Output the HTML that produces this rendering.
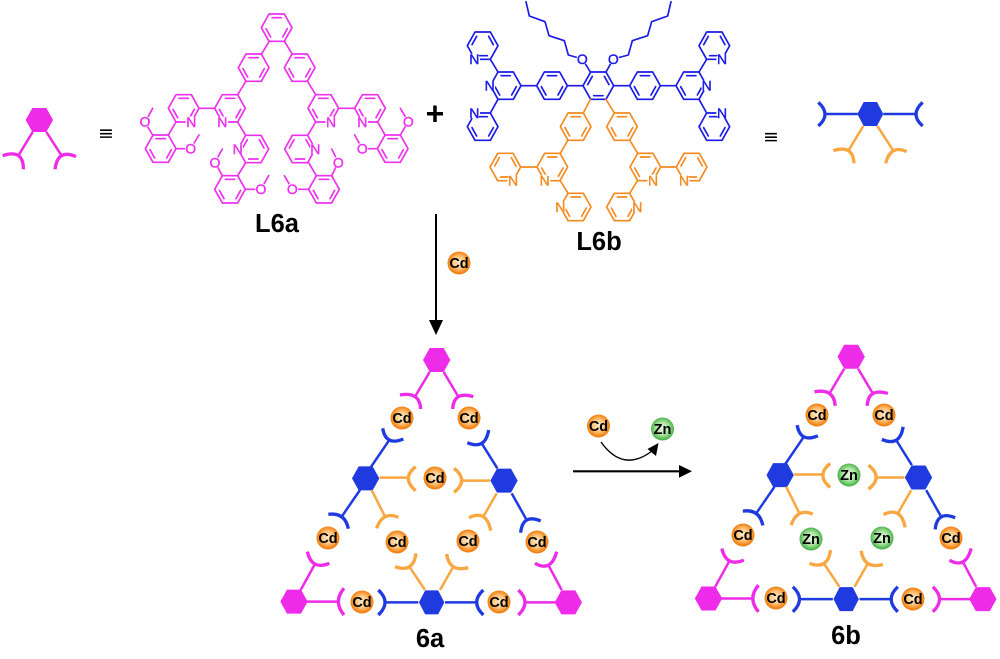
<!DOCTYPE html>
<html><head><meta charset="utf-8"><style>
html,body{margin:0;padding:0;background:#fff}
svg{display:block}
text{font-family:"Liberation Sans",sans-serif}
.chem{fill:none;stroke-width:5;stroke-linecap:round;stroke-linejoin:round}
.at{font-size:42px;text-anchor:middle;stroke-width:1.2}
.lb{font-size:25.5px;font-weight:bold;text-anchor:middle;fill:#000}
.m{font-size:14.5px;font-weight:bold;text-anchor:middle;fill:#000}
</style></head><body>
<svg width="1000" height="659" viewBox="0 0 1000 659" xmlns="http://www.w3.org/2000/svg">
<defs>
<g id="ra"><polygon points="-23,-41 23,-41 46,0 23,41 -23,41 -46,0"/><path d="M-14,-30H14M32,3L18,28M-32,3L-18,28"/></g>
<g id="rb"><polygon points="-23,-41 23,-41 46,0 23,41 -23,41 -46,0"/><path d="M-14,30H14M32,-3L18,-28M-32,-3L-18,-28"/></g>
<polygon id="hex" points="-21,-36 21,-36 41,0 21,36 -21,36 -41,0"/>
<circle id="w" r="17" fill="#fff"/>
<radialGradient id="go" cx="50%" cy="48%" r="52%"><stop offset="0" stop-color="#ffeccc"/><stop offset=".5" stop-color="#ffc680"/><stop offset=".85" stop-color="#f58a1e"/><stop offset="1" stop-color="#ec7a10"/></radialGradient>
<radialGradient id="gz" cx="50%" cy="48%" r="52%"><stop offset="0" stop-color="#e8f8e0"/><stop offset=".5" stop-color="#b4e6a8"/><stop offset=".85" stop-color="#5fc05a"/><stop offset="1" stop-color="#42a845"/></radialGradient>
<circle id="bo" r="11.5" fill="url(#go)"/>
<circle id="bz" r="11.5" fill="url(#gz)"/>
<g id="tri" fill="none">
 <g fill="#ee2be8" stroke="none">
  <use href="#hex" x="500" y="60"/><use href="#hex" x="72" y="785"/><use href="#hex" x="895" y="787"/>
 </g>
 <g fill="#1f3be0" stroke="none">
  <use href="#hex" x="287" y="415"/><use href="#hex" x="702" y="422"/>
  <use href="#hex" transform="translate(485 787) scale(.93 1)"/>
 </g>
 <g stroke="#ee2be8" stroke-width="7.5">
  <path d="M479,96L435,170M521,96L565,170M92,750L135,672M110,785H205M875,750L835,675M858,787H765"/>
  <path stroke-width="10" d="M390,165Q449,154 452,207M610,170Q551,152 548,207M178,670Q125,692 112,635M222,745Q188,785 222,825M795,670Q843,698 860,635M745,750Q785,787 745,825"/>
 </g>
 <g stroke="#1f3be0" stroke-width="7.5">
  <path d="M300,385L358,300M270,450L215,530M682,385L635,310M725,460L770,540M445,787H345M525,787H625"/>
  <path stroke-width="10" d="M338,265Q347,319 400,297M175,523Q225,516 235,566M592,308Q646,331 656,270M812,543Q758,520 752,578M325,750Q365,787 325,825M640,750Q600,787 640,825"/>
 </g>
 <g stroke="#faa641" stroke-width="7.5">
  <path d="M329,413H415M305,450L345,530M660,422H578M680,460L640,530M465,750L418,680M510,750L550,680"/>
  <path stroke-width="10" d="M437,380Q393,415 437,452M385,532Q338,512 320,565M552,385Q598,421 552,457M597,533Q650,508 662,572M375,680Q430,700 438,640M595,683Q538,698 530,642"/>
 </g>
</g>
</defs>
<rect width="1000" height="659" fill="#fff"/>

<!-- L6a -->
<g transform="translate(130 0) scale(.33333)">
<g class="chem" stroke="#ee30ee">
 <use href="#ra" x="440" y="83"/>
 <use href="#ra" x="371" y="203"/><use href="#ra" x="509" y="203"/>
 <use href="#ra" x="300" y="325"/><use href="#ra" x="580" y="325"/>
 <use href="#ra" x="161" y="325"/><use href="#ra" x="720" y="325"/>
 <use href="#rb" x="370" y="447"/><use href="#rb" x="510" y="447"/>
 <use href="#ra" x="92" y="446"/><use href="#ra" x="300" y="568"/>
 <use href="#ra" x="788" y="446"/><use href="#ra" x="582" y="568"/>
 <path d="M417,125L394,163M464,125L487,163M348,243L323,284M532,243L557,284M254,325H207M626,325H674M323,366L347,406M557,366L533,406"/>
 <path d="M115,405L138,366M68,405L45,367L68,325M138,446H182L207,405"/>
 <path d="M323,527L347,488M277,527L255,487L277,447M346,568H393L416,527"/>
 <path d="M765,405L743,366M811,405L835,365L811,325M742,446H697L674,405"/>
 <path d="M559,527L536,488M605,527L625,487L605,447M536,568H487L463,527"/>
</g>
<g>
 <use href="#w" x="184" y="366"/><use href="#w" x="277" y="366"/><use href="#w" x="603" y="366"/><use href="#w" x="697" y="366"/>
 <use href="#w" x="323" y="447"/><use href="#w" x="556" y="447"/>
 <use href="#w" x="45" y="365"/><use href="#w" x="182" y="445"/><use href="#w" x="255" y="487"/><use href="#w" x="393" y="567"/>
 <use href="#w" x="835" y="365"/><use href="#w" x="697" y="445"/><use href="#w" x="625" y="487"/><use href="#w" x="487" y="567"/>
</g>
<g class="at" fill="#ee30ee" stroke="#ee30ee">
 <text x="184" y="381">N</text><text x="277" y="381">N</text><text x="603" y="381">N</text><text x="697" y="381">N</text>
 <text x="323" y="462">N</text><text x="556" y="462">N</text>
 <text x="45" y="380">O</text><text x="182" y="460">O</text><text x="255" y="502">O</text><text x="393" y="582">O</text>
 <text x="835" y="380">O</text><text x="697" y="460">O</text><text x="625" y="502">O</text><text x="487" y="582">O</text>
</g>
</g>
<text class="lb" x="277" y="232">L6a</text>

<!-- L6b -->
<g transform="translate(450 0) scale(.33333)">
<g class="chem" stroke="#1a1ae8">
 <use href="#rb" x="445" y="257"/>
 <use href="#ra" x="306" y="257"/><use href="#ra" x="585" y="257"/>
 <use href="#ra" x="167" y="257"/><use href="#ra" x="724" y="257"/>
 <use href="#rb" x="98" y="137"/><use href="#ra" x="98" y="380"/>
 <use href="#rb" x="793" y="137"/><use href="#ra" x="793" y="380"/>
 <path d="M352,257H398M491,257H539M260,257H213M631,257H678M121,178L144,216M121,339L144,298M770,178L747,216M770,339L747,298"/>
 <path d="M421,216L397,177L355,165L343,122L297,107L285,65L238,48L228,5"/>
 <path d="M468,216L490,177L535,165L547,122L593,107L605,65L653,48L663,5"/>
</g>
<g class="chem" stroke="#f58a1f">
 <path d="M421,298L400,339M468,298L493,339M354,420L331,460M539,420L563,460M212,501H261M632,501H679M330,541L354,580M563,541L539,580"/>
 <use href="#ra" x="377" y="380"/><use href="#ra" x="516" y="380"/>
 <use href="#ra" x="307" y="501"/><use href="#ra" x="586" y="501"/>
 <use href="#rb" x="166" y="501"/><use href="#rb" x="725" y="501"/>
 <use href="#ra" x="377" y="621"/><use href="#ra" x="516" y="621"/>
</g>
<g>
 <use href="#w" x="73" y="177"/><use href="#w" x="119" y="257"/><use href="#w" x="73" y="339"/>
 <use href="#w" x="816" y="177"/><use href="#w" x="770" y="257"/><use href="#w" x="816" y="339"/>
 <use href="#w" x="397" y="177"/><use href="#w" x="490" y="177"/>
 <use href="#w" x="189" y="541"/><use href="#w" x="284" y="541"/><use href="#w" x="609" y="541"/><use href="#w" x="702" y="541"/>
 <use href="#w" x="331" y="621"/><use href="#w" x="562" y="621"/>
</g>
<g class="at" fill="#1a1ae8" stroke="#1a1ae8">
 <text x="73" y="192">N</text><text x="119" y="272">N</text><text x="73" y="354">N</text>
 <text x="816" y="192">N</text><text x="770" y="272">N</text><text x="816" y="354">N</text>
 <text x="397" y="192">O</text><text x="490" y="192">O</text>
</g>
<g class="at" fill="#f58a1f" stroke="#f58a1f">
 <text x="189" y="556">N</text><text x="284" y="556">N</text><text x="609" y="556">N</text><text x="702" y="556">N</text>
 <text x="331" y="636">N</text><text x="562" y="636">N</text>
</g>
</g>
<text class="lb" x="599" y="250">L6b</text>

<text x="435" y="124.5" font-size="32" font-weight="bold" text-anchor="middle" fill="#000">+</text>
<text x="106" y="139.5" font-size="19" text-anchor="middle" fill="#000" style="font-family:'DejaVu Sans',sans-serif">≡</text>
<text x="771" y="143" font-size="19" text-anchor="middle" fill="#000" style="font-family:'DejaVu Sans',sans-serif">≡</text>

<!-- left icon -->
<g transform="translate(0 90) scale(.33333)" fill="none" stroke="#ee2be8">
 <use href="#hex" x="118" y="90" fill="#ee2be8" stroke="none"/>
 <path stroke-width="7.5" d="M98,126L55,197M139,126L185,197"/>
 <path stroke-width="10" d="M8,197Q71,176 70,238M228,200Q173,175 165,238"/>
</g>
<!-- right icon -->
<g transform="translate(750 85) scale(.33333)" fill="none">
 <use href="#hex" transform="translate(361 87) scale(.95 1)" fill="#1f3be0"/>
 <path stroke="#1f3be0" stroke-width="7.5" d="M225,87H323M400,87H497"/>
 <path stroke="#1f3be0" stroke-width="10" d="M205,52Q245,88 205,123M518,52Q478,88 518,123"/>
 <path stroke="#faa641" stroke-width="7.5" d="M340,123L295,197M382,123L430,197"/>
 <path stroke="#faa641" stroke-width="10" d="M250,197Q309,178 312,235M470,200Q422,177 407,235"/>
</g>

<!-- vertical arrow -->
<path d="M436,214V322" stroke="#000" stroke-width="2" fill="none"/>
<polygon points="436,335 429,320 443,320" fill="#000"/>
<use href="#bo" x="459" y="263"/><text class="m" x="459" y="268">Cd</text>

<!-- triangles -->
<g transform="translate(270 340) scale(.33333)"><use href="#tri"/></g>
<g transform="translate(684.5 336.8) scale(.33333)"><use href="#tri"/></g>

<!-- 6a balls -->
<g>
<use href="#bo" x="402" y="418"/><text class="m" x="402" y="423">Cd</text>
<use href="#bo" x="469" y="418"/><text class="m" x="469" y="423">Cd</text>
<use href="#bo" x="435" y="478"/><text class="m" x="435" y="483">Cd</text>
<use href="#bo" x="328" y="538"/><text class="m" x="328" y="543">Cd</text>
<use href="#bo" x="397" y="542"/><text class="m" x="397" y="547">Cd</text>
<use href="#bo" x="468" y="541"/><text class="m" x="468" y="546">Cd</text>
<use href="#bo" x="537" y="542"/><text class="m" x="537" y="547">Cd</text>
<use href="#bo" x="362" y="602"/><text class="m" x="362" y="607">Cd</text>
<use href="#bo" x="499" y="602"/><text class="m" x="499" y="607">Cd</text>
</g>
<!-- 6b balls -->
<g>
<use href="#bo" x="817" y="415"/><text class="m" x="817" y="420">Cd</text>
<use href="#bo" x="884" y="415"/><text class="m" x="884" y="420">Cd</text>
<use href="#bz" x="849" y="475"/><text class="m" x="849" y="480">Zn</text>
<use href="#bo" x="743" y="535"/><text class="m" x="743" y="540">Cd</text>
<use href="#bz" x="811" y="539"/><text class="m" x="811" y="544">Zn</text>
<use href="#bz" x="882" y="538"/><text class="m" x="882" y="543">Zn</text>
<use href="#bo" x="951" y="538"/><text class="m" x="951" y="543">Cd</text>
<use href="#bo" x="776" y="598"/><text class="m" x="776" y="603">Cd</text>
<use href="#bo" x="913" y="599"/><text class="m" x="913" y="604">Cd</text>
</g>

<text class="lb" x="430" y="647">6a</text>
<text class="lb" x="846" y="644">6b</text>

<!-- exchange -->
<use href="#bo" x="598.5" y="426"/><text class="m" x="598.5" y="431">Cd</text>
<use href="#bz" x="662.5" y="429"/><text class="m" x="662.5" y="434">Zn</text>
<path d="M601,442Q623,473 652,451" fill="none" stroke="#000" stroke-width="1.4"/>
<polygon points="658.5,443 647.5,449 656,456" fill="#000"/>
<path d="M573,471.3H682" stroke="#000" stroke-width="2.2" fill="none"/>
<polygon points="692,471.3 679,465 679,477.7" fill="#000"/>
</svg>
</body></html>
